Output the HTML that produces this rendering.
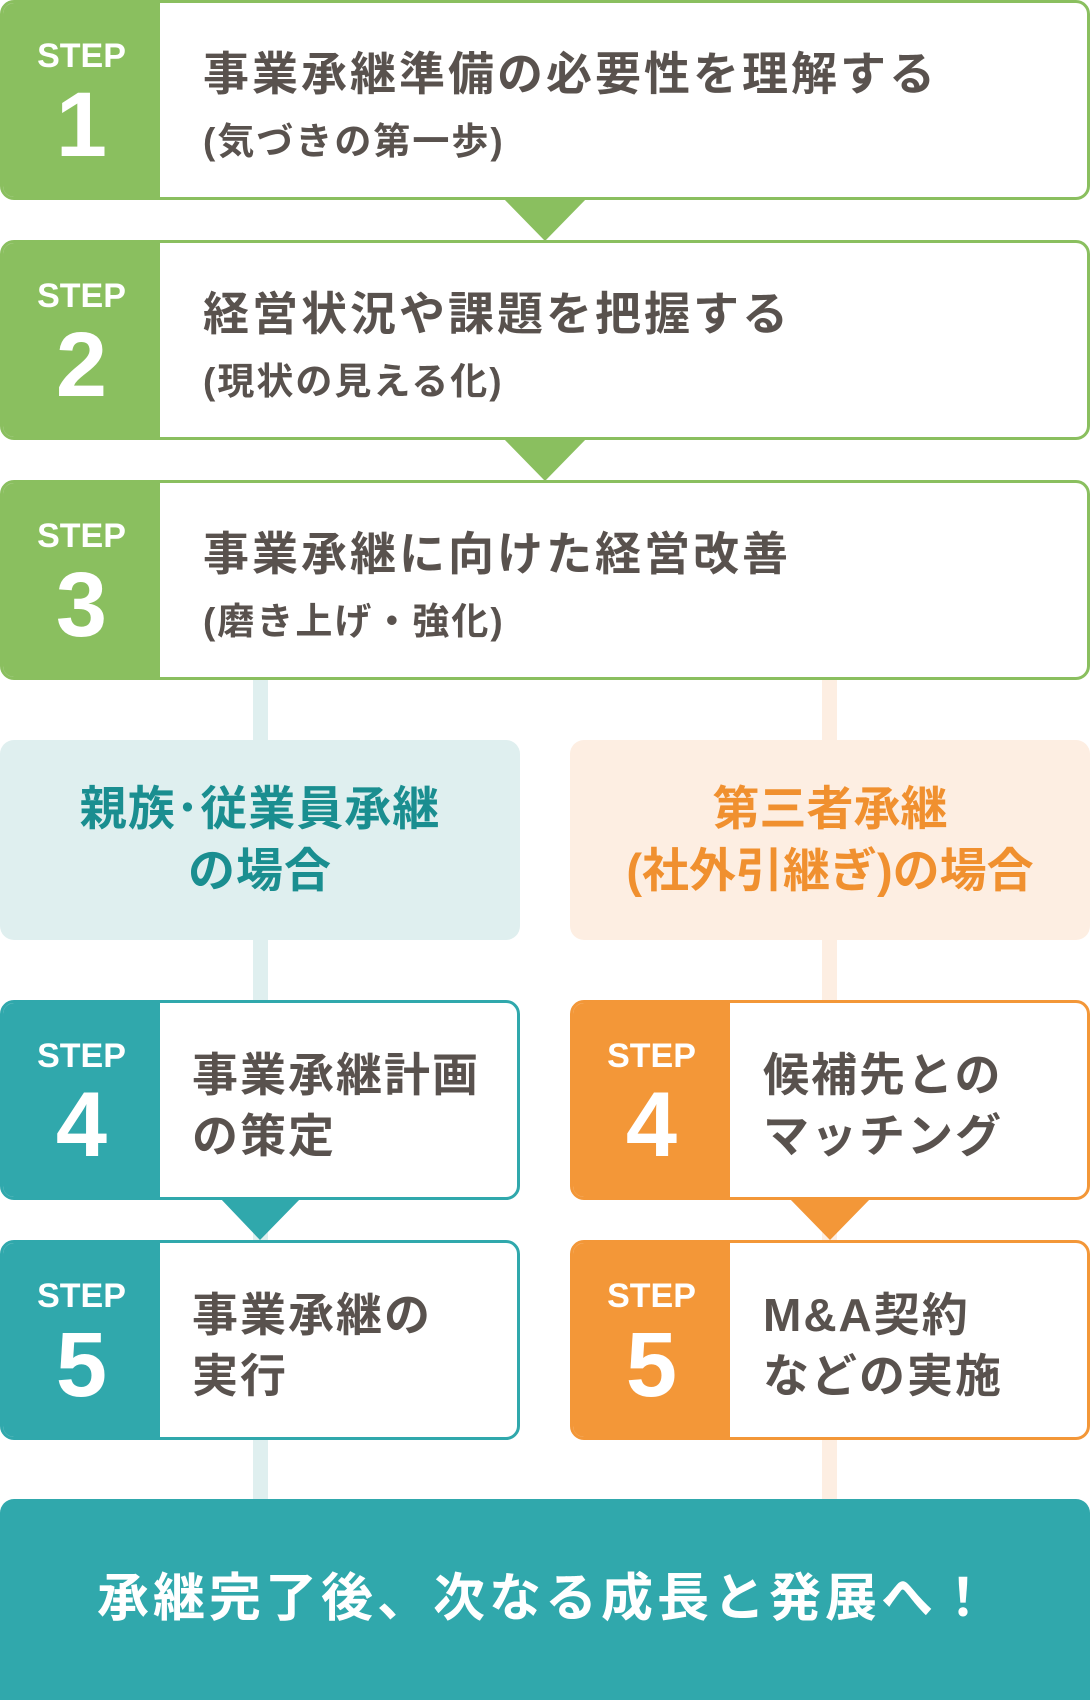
<!DOCTYPE html>
<html><head><meta charset="utf-8"><style>
*{margin:0;padding:0;box-sizing:border-box}
body{width:1090px;height:1700px;background:#fff;position:relative;overflow:hidden;font-family:"Liberation Sans","Noto Sans CJK JP",sans-serif;}
.a{position:absolute}
.box{position:absolute;border:3px solid;border-radius:14px;background:#fff;overflow:hidden}
.pan{position:absolute;left:0;top:0;bottom:0;width:157px}
.st{position:absolute;left:0;width:157px;text-align:center;color:#fff;font-weight:bold;font-family:"Liberation Sans",sans-serif}
.t{position:absolute;color:#59524e;font-weight:bold;white-space:nowrap;line-height:1}
.g{border-color:#8abf5f}.g .pan{background:#8abf5f}
.tl{border-color:#30a8ac}.tl .pan{background:#30a8ac}
.or{border-color:#f39738}.or .pan{background:#f39738}
</style></head><body>
<div class="a" style="left:253px;top:679px;width:15px;height:830px;background:#dfefef"></div>
<div class="a" style="left:822px;top:679px;width:15px;height:830px;background:#fdeee2"></div>
<svg class="a" style="left:0;top:0" width="1090" height="1700">
<polygon points="502,197 588,197 545,241" fill="#8abf5f"/>
<polygon points="502,437 588,437 545,481" fill="#8abf5f"/>
<polygon points="219,1197 302,1197 260,1240" fill="#30a8ac"/>
<polygon points="788,1197 872,1197 830,1240" fill="#f39738"/>
</svg>
<div class="box g" style="left:0;top:0;width:1090px;height:200px"><div class="pan"></div>
<div class="st" style="top:34px;font-size:34px">STEP</div><div class="st" style="top:70px;font-size:92px">1</div>
<div class="t" style="left:200px;top:48px;font-size:46px;letter-spacing:3px">事業承継準備の必要性を理解する</div>
<div class="t" style="left:200px;top:120px;font-size:37px;letter-spacing:2px">(気づきの第一歩)</div></div>
<div class="box g" style="left:0;top:240px;width:1090px;height:200px"><div class="pan"></div>
<div class="st" style="top:34px;font-size:34px">STEP</div><div class="st" style="top:70px;font-size:92px">2</div>
<div class="t" style="left:200px;top:48px;font-size:46px;letter-spacing:3px">経営状況や課題を把握する</div>
<div class="t" style="left:200px;top:120px;font-size:37px;letter-spacing:2px">(現状の見える化)</div></div>
<div class="box g" style="left:0;top:480px;width:1090px;height:200px"><div class="pan"></div>
<div class="st" style="top:34px;font-size:34px">STEP</div><div class="st" style="top:70px;font-size:92px">3</div>
<div class="t" style="left:200px;top:48px;font-size:46px;letter-spacing:3px">事業承継に向けた経営改善</div>
<div class="t" style="left:200px;top:120px;font-size:37px;letter-spacing:2px">(磨き上げ・強化)</div></div>
<div class="a" style="left:0;top:740px;width:520px;height:200px;background:#dfefef;border-radius:14px;text-align:center;color:#1a8e90;font-weight:bold;font-size:47px;line-height:62px;padding-top:38px;letter-spacing:1px">親族･従業員承継<br>の場合</div>
<div class="a" style="left:570px;top:740px;width:520px;height:200px;background:#fdeee2;border-radius:14px;text-align:center;color:#f0902f;font-weight:bold;font-size:47px;line-height:62px;padding-top:38px;letter-spacing:0px">第三者承継<br>(社外引継ぎ)の場合</div>
<div class="box tl" style="left:0;top:1000px;width:520px;height:200px"><div class="pan"></div>
<div class="st" style="top:34px;font-size:34px">STEP</div><div class="st" style="top:70px;font-size:92px">4</div>
<div class="t" style="left:189px;top:42px;font-size:46px;letter-spacing:2px;line-height:61px">事業承継計画<br>の策定</div></div>
<div class="box tl" style="left:0;top:1240px;width:520px;height:200px"><div class="pan"></div>
<div class="st" style="top:34px;font-size:34px">STEP</div><div class="st" style="top:70px;font-size:92px">5</div>
<div class="t" style="left:189px;top:42px;font-size:46px;letter-spacing:2px;line-height:61px">事業承継の<br>実行</div></div>
<div class="box or" style="left:570px;top:1000px;width:520px;height:200px"><div class="pan"></div>
<div class="st" style="top:34px;font-size:34px">STEP</div><div class="st" style="top:70px;font-size:92px">4</div>
<div class="t" style="left:190px;top:42px;font-size:46px;letter-spacing:2px;line-height:61px">候補先との<br>マッチング</div></div>
<div class="box or" style="left:570px;top:1240px;width:520px;height:200px"><div class="pan"></div>
<div class="st" style="top:34px;font-size:34px">STEP</div><div class="st" style="top:70px;font-size:92px">5</div>
<div class="t" style="left:190px;top:42px;font-size:46px;letter-spacing:2px;line-height:61px">M&amp;A契約<br>などの実施</div></div>
<div class="a" style="left:0;top:1499px;width:1090px;height:201px;background:#30a8ac;border-radius:14px 14px 0 0;color:#fff;font-weight:bold;font-size:52px;text-align:center;line-height:201px;letter-spacing:4px">承継完了後、次なる成長と発展へ！</div>
</body></html>
